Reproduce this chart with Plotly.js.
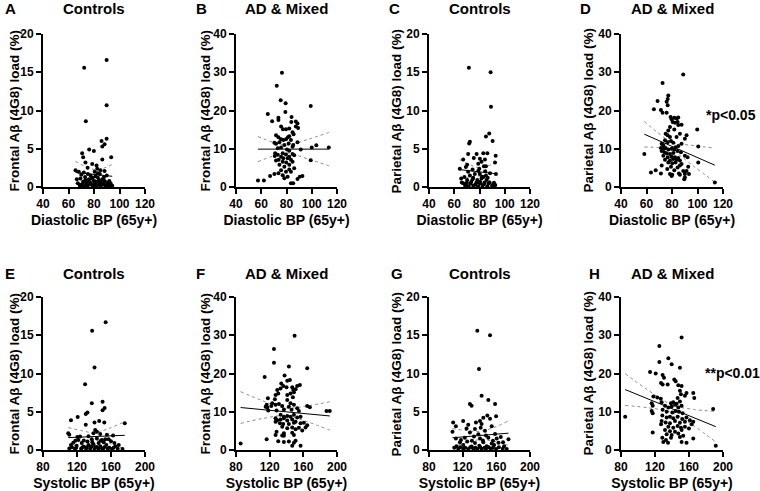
<!DOCTYPE html>
<html>
<head>
<meta charset="utf-8">
<script src="https://cdn.plot.ly/plotly-3.0.1.min.js"></script>
<style>html,body{margin:0;padding:0;background:#fff}#chart{width:760px;height:491px}</style>
</head>
<body>
<div id="chart"></div>
<script>
// ---- Data ----
const panelLetters = ['A','B','C','D','E','F','G','H'];
const panelTitles = ['Controls','AD & Mixed','Controls','AD & Mixed','Controls','AD & Mixed','Controls','AD & Mixed'];
const xTitles = ['Diastolic BP (65y+)','Systolic BP (65y+)'];
const yTitles = ['Frontal Aβ (4G8) load (%)','Parietal Aβ (4G8) load (%)'];
const pLabels = {D: '*p<0.05', H: '**p<0.01'};

const xA = [89.9,72.3,89.9,73.6,89.9,85.9,88.3,86.5,76.2,70.7,71.5,79.9,93.5,86.5,73.3,65.5,68.1,72,75.2,82.5,85.1,88.3,77.3,81.2,84.6,87.8,69.4,73.3,76,79.9,83.8,86.5,67.3,71,74.1,77.8,81,84.1,87.2,90.4,93,68.9,72.5,75.2,78.8,82,85.1,89.3,91.9,94.3,78.6,82,75,80.5,83,70,79,85,76,90,92,70,80.5,88,69,71.5,74,77,79,81.5,84,86,88.5,91,66.5,73,78,83,87.5];
const yA = [16.6,15.6,10.7,8.6,6.3,6.0,5.6,5.3,4.9,4.4,3.9,4.7,3.9,3.6,3.2,2.2,2.0,1.9,1.7,2.4,2.2,2.1,1.5,1.4,1.7,1.3,1.1,0.9,1.0,0.8,0.9,1.0,0.5,0.4,0.6,0.35,0.5,0.35,0.6,0.4,0.5,0.15,0.1,0.2,0.15,0.1,0.15,0.1,0.2,0.15,3.0,2.8,2.5,2.0,1.8,1.6,1.2,0.7,0.7,1.5,0.8,0.2,0.25,0.3,0.3,0.7,0.45,0.6,0.3,0.7,0.55,0.3,0.75,0.6,1.0,1.3,1.1,1.25,0.9];

const xB = [76.4,72.3,75.4,79.3,99.2,65.2,79.1,68.6,73.6,73.6,84,83.8,87.4,88.7,87.4,89.2,75.7,77.2,79.6,82.2,84.8,85.6,71.7,73.6,75.7,77.5,79.6,81.1,82.2,83.5,70.4,71.7,74.4,78.3,81.7,85.3,88.7,100,103.6,113.5,73.1,75.7,80.4,82.2,84.8,91.3,71,73.1,77,79.6,82.2,84.8,86.1,70.7,75.7,77.5,80.9,83.5,99.2,71.7,73.8,77,79.8,84.8,74.4,78.3,82.2,86.1,82.2,75.7,79.6,83.5,70.4,73.6,77,80.9,67,78.3,90.5,92.6,88.7,57.4,62.1,83.5,85.3];
const yB = [29.9,26.5,22.7,21.9,21.2,19.1,19.6,17.2,18.1,17.5,18.3,17,17.1,16.6,15.8,15.4,15.8,15.1,15.1,15.3,14.3,13.8,13.5,13,12.5,12.3,12.5,13,13.3,12.3,11.6,11.3,11.7,11,11.4,11,11.7,10.3,10.9,10.3,10.1,10.3,9.8,9.5,10.5,9.8,8.8,8.4,8.8,8.5,7.9,8.6,8.3,8.1,7.9,7.5,7.5,7.1,7.0,6.9,7.1,6.6,6.4,6.6,5.8,5.3,5.8,4.9,4.6,4.4,4.0,4.0,3.4,3.6,3.1,2.7,2.9,2.3,2.7,2.9,2.1,1.7,1.7,1.0,1.0];

const xC = [71.6,88.8,89.1,87.7,85.1,72.4,71.8,90.4,71,77.7,83,86.2,92.8,67.1,75.5,80.3,84.3,70.2,79,81.6,83.5,92.3,64.4,69.2,74.5,79.8,85.1,88.3,93,72.4,76.3,80.3,83,85.1,65.5,70.2,74.5,78.2,81.6,85.6,67.1,69.2,72.9,76.6,80.3,83.5,87.2,90.9,92.5,68.6,71.3,75,79,82.4,86.2,89.9,92,66,70,73.5,77.5,80.5,84,88,91.5,68,75,82,86.5,71,79,84.5];
const yC = [15.6,15.0,10.5,7.0,6.6,5.9,5.7,6.0,4.3,4.3,4.4,4.4,4.1,3.6,3.8,3.7,3.6,2.9,3.05,3.3,2.7,3.2,2.4,2.6,2.3,2.4,2.7,1.8,1.7,1.5,1.7,1.7,1.3,1.5,1.1,0.9,1.0,0.9,1.1,0.9,0.5,0.35,0.45,0.3,0.5,0.35,0.45,0.35,0.25,0.15,0.1,0.15,0.1,0.15,0.1,0.15,0.15,0.6,0.55,0.7,0.55,0.7,0.6,0.6,0.55,1.3,1.2,1.35,1.2,2.0,2.1,2.05];

const xD = [88.8,72.6,77.1,76.6,75.8,76.6,68.7,65.8,71.3,72.6,75.8,78.9,79.7,81.8,83.6,84.9,80.5,82.3,84.4,78.4,81.8,77.1,84.9,87.5,99.8,75,76.6,78.4,91.4,90.1,86.2,83.6,74.5,76.6,79.2,81,71.9,73.2,87.5,85,100.6,71.3,73.2,75,77.1,79.7,81.8,82.8,58.3,71.9,74,75.8,78.4,81,84.4,87,73.2,76.6,79.7,82.3,84.9,90.1,74.5,78.4,81,83.6,86.2,92.2,77.1,80.2,82.8,87.5,100.6,71.9,79.2,84.4,86.2,92.7,76.3,81.8,88.8,91.4,67.2,71.3,63.5,78.4,80.2,86.2,90.1,93.3,90.1,89.6,79.7,113.6,85.4];
const yD = [29.4,27.2,23.9,23.0,22.3,21.4,22.5,20.3,20.1,19.4,19.4,18.3,17.7,18.1,17.9,18.2,17.0,16.8,17.0,15.7,15.0,14.8,16.2,16.3,15.0,13.9,13.5,13.1,13.5,12.6,13.9,13.1,12.2,11.7,12.0,11.6,11.3,10.9,11.3,10.7,10.6,10.2,10.0,10.2,9.8,10.0,9.8,10.4,8.6,9.4,9.1,8.8,8.6,8.9,9.4,9.1,8.2,7.8,7.9,7.8,7.6,8.2,7.1,6.9,7.3,7.1,6.9,7.8,6.4,6.2,6.4,6.0,6.4,5.6,5.3,5.1,5.6,5.3,4.7,4.4,4.2,4.2,4.4,3.5,3.8,3.4,3.2,3.2,3.4,3.4,2.5,2.0,2.9,1.2,3.5];

const xE = [153.7,137.8,140.6,129.5,150.1,137.4,152.5,150.1,132.3,130.3,120.8,112.9,146.1,140.6,152.1,176.2,130.3,109.7,110.9,143.4,141.4,139.4,123.6,120.4,133.5,147.3,155.2,162.4,121.6,137.4,143.4,149.3,153.3,157.2,115.6,125.5,132.3,139.4,145.4,151.3,164,112.9,119.6,127.5,133.5,137.4,143.4,147.3,154.5,165.1,169.1,110.9,117.6,124.8,130.7,135.4,140.6,145.3,150.5,156,161.2,167.9,173.5,114,119,126,131,136,142,147,152,158,163,118,128,138,148,160];
const yE = [16.7,15.6,10.8,8.6,6.3,6.1,5.5,5.2,4.9,4.7,4.3,3.9,3.8,3.6,3.6,3.5,3.3,2.2,2.0,2.4,2.6,2.2,1.75,1.7,1.8,2.1,2.0,1.9,1.3,1.4,1.5,1.3,1.4,1.4,0.95,0.9,1.1,0.75,0.9,1.0,0.9,0.65,0.55,0.45,0.65,0.5,0.4,0.5,0.65,0.5,0.65,0.2,0.13,0.17,0.13,0.2,0.13,0.17,0.13,0.17,0.13,0.17,0.13,0.35,0.3,0.3,0.35,0.3,0.35,0.3,0.35,0.3,0.3,1.2,1.25,1.0,1.2,1.15];

const xF = [149.6,125.1,125.1,142.8,164.6,114,137.7,144,140.9,133.8,136.1,140,146.8,148,155.9,152.7,150.8,148.8,129,132.9,127,130.2,126.2,117.9,140.9,144.8,147.6,123.1,127,131,134.9,121.9,116.4,117.2,115.2,140.9,144.8,148.8,142.8,164.6,167.7,152.7,154.7,146,136.9,187.5,191.4,118.3,128.2,133,136.9,140.9,144.8,148.8,152.7,156.7,127,129,133,136.9,140.9,146.8,150.8,127,132.2,136.1,142.8,148.8,156.7,160.6,164.6,162.6,134.9,140.9,146.8,150.8,154.7,128.2,136.9,146.8,158.7,127,134.9,136.9,148.8,116.4,130.2,136.9,142.8,148.8,85.5,146.8,156.7,150.8];
const yF = [29.9,26.4,22.8,21.8,21.4,19.1,19.5,18.3,18.1,17.4,16.7,16.4,16.4,15.7,17.0,16.7,15.9,15.1,15.7,16.1,14.4,14.8,13.3,13.5,14.4,14.8,13.8,12.2,11.8,12.0,11.5,11.5,11.8,11.1,11.3,13.1,12.2,11.8,11.3,11.5,11.2,10.9,10.2,10.5,10.6,10.2,10.2,10.3,10.3,9.2,8.7,8.9,8.7,9.2,8.5,8.7,8.3,7.8,8.0,8.3,7.7,8.0,7.4,7.4,7.0,6.8,6.8,7.1,7.0,7.1,6.5,5.9,6.1,5.7,5.9,5.4,5.8,4.8,4.4,4.5,5.1,3.9,3.8,3.7,3.9,2.8,2.3,2.1,2.2,1.9,1.7,1.1,1.1,2.4];

const xG = [137.4,152.5,139.4,142.5,150.5,128.6,130.6,158.5,149.3,144.5,140.6,152.5,159.7,108.7,120.6,126.6,135.8,142.5,111.9,124.6,134.6,141.4,146.5,154.5,107.9,128.6,138.6,147.7,158.5,111.9,122.6,133.4,140.6,150.5,160.5,165.3,174.4,116.7,125.4,134.6,144.5,154.5,162.5,112.7,120.6,130.6,139.8,148.5,157.3,169.2,114.7,120.6,126.6,132.6,137.4,142.5,147.7,153.3,159.7,167.6,172.4,110,117,123,129,135,141,146,151,156,163,118,131,144,156,168];
const yG = [15.6,15.0,10.6,7.1,6.55,6.0,5.8,6.0,4.5,4.2,3.8,4.1,4.4,3.6,3.8,3.3,3.6,3.4,3.1,2.8,2.75,2.9,2.5,3.1,2.4,2.3,2.05,1.9,2.1,1.5,1.6,1.75,1.5,1.6,1.5,1.7,1.4,1.0,1.1,0.9,1.0,0.85,0.95,0.5,0.65,0.45,0.55,0.5,0.65,0.5,0.13,0.17,0.13,0.17,0.13,0.17,0.13,0.17,0.13,0.17,0.13,0.3,0.35,0.3,0.35,0.3,0.35,0.3,0.35,0.3,0.35,1.3,1.2,1.25,1.2,1.0];

const xH = [151.3,125.1,135.7,125.1,139.6,149.3,114.2,120.8,129,130.6,142.7,144.3,127.1,129,134.9,147.4,151.3,149.3,157.1,155.2,118.1,122.7,150.5,146.6,165,166.2,126.8,127.8,138.8,141.5,116.1,117.3,149.3,145.4,131.8,135.7,139.6,143.6,147.4,151.3,188.4,116.1,117.3,129,133.7,140.4,144.3,148.2,152.5,84.9,128.6,133.7,137.6,141.5,146.6,152,157,161,127.8,132.5,137.6,143.5,149.3,155.2,165,163.1,127.1,135.7,141.5,146.6,150.5,155.2,131.8,137.6,143.5,151.3,159.9,133.7,139.6,147.4,153.2,117.3,128.6,138.8,149.3,165,132.9,151.3,129.8,157.1,135.3,191.5];
const yH = [29.4,27.2,24.0,23.0,22.4,21.5,20.4,20.0,19.6,18.9,18.4,18.0,17.5,17.1,17.1,16.9,16.7,15.5,14.9,14.2,14.0,13.7,14.6,13.6,14.9,13.6,13.4,12.5,12.2,12.5,12.2,11.6,12.7,12.1,11.6,11.1,11.4,11.8,11.1,11.6,10.7,10.2,9.6,10.5,10.0,9.8,10.2,10.0,9.6,8.7,9.0,8.5,8.7,8.3,8.7,8.1,8.5,7.8,7.6,7.2,7.0,7.6,7.1,7.4,7.4,6.7,6.7,6.1,5.8,6.3,5.8,6.1,5.2,4.9,4.8,5.2,5.6,4.1,3.9,4.3,3.7,4.6,3.2,3.2,3.4,3.0,2.6,2.1,2.1,1.9,1.9,1.1];

// Linear-regression lines and 95% confidence bands
const fitXA = [65.5, 94.3],  fitYA = [1.9, 1.4];
const bandXA = [65.5, 72.7, 80, 87, 94.3],  bandUpA = [3.35, 2.7, 2.3, 2.43, 2.95],  bandLoA = [0.45, 0.86, 1.0, 0.63, -0.15];
const fitXB = [57.4, 113.5], fitYB = [9.9, 9.9];
const bandXB = [57.4, 68.7, 80, 96.8, 113.5], bandUpB = [13.2, 11.77, 10.9, 12.44, 14.25], bandLoB = [6.6, 8.03, 8.9, 7.36, 5.55];
const fitXC = [64.4, 92.8],  fitYC = [2.27, 1.74];
const bandXC = [64.4, 71.7, 79, 85.9, 92.8],  bandUpC = [3.57, 2.98, 2.55, 2.72, 3.19], bandLoC = [0.97, 1.28, 1.45, 1.02, 0.29];
const fitXD = [58.3, 113.6], fitYD = [13.8, 5.7];
const bandXD = [58.3, 69, 80, 97, 113.6],     bandUpD = [17.15, 14.17, 11.72, 10.84, 10.15], bandLoD = [10.45, 10.29, 9.52, 5.42, 1.25];
const fitXE = [109.7, 176.2], fitYE = [1.62, 1.92];
const bandXE = [109.7, 125, 140, 158, 176.2], bandUpE = [2.93, 2.54, 2.26, 2.84, 3.7], bandLoE = [0.31, 0.84, 1.26, 0.84, 0.14];
const fitXF = [85.5, 191.4], fitYF = [11.1, 8.9];
const bandXF = [85.5, 112, 140, 165, 191.4],  bandUpF = [15.25, 12.85, 10.97, 11.55, 12.6], bandLoF = [6.95, 8.25, 8.97, 7.35, 5.2];
const fitXG = [107.9, 174.4], fitYG = [1.6, 2.2];
const bandXG = [107.9, 124, 140, 157, 174.4], bandUpG = [2.8, 2.55, 2.44, 2.94, 3.8], bandLoG = [0.4, 0.95, 1.34, 1.14, 0.6];
const fitXH = [84.9, 191.5], fitYH = [15.8, 6.1];
const bandXH = [84.9, 112, 140, 165, 191.5],  bandUpH = [19.95, 15.63, 11.79, 10.62, 10.1], bandLoH = [11.65, 11.03, 9.79, 6.42, 2.1];

const xRanges = {dia: [40, 120], sys: [80, 200]};
const xDticks = {dia: 20, sys: 40};
const yRanges = {ctrl: [0, 20], ad: [0, 40]};
const yDticks = {ctrl: 5, ad: 10};

// ---- Layout geometry (pixels in a 760x491 figure) ----
const W = 760, H = 491;
const colPx = [[43,145],[236,337],[429,530],[621,723]];
const rowPx = [[34,187],[297,450]];
const yTitleXPx = [14, 205, 396, 588];
const letterPx = [[3,9],[194,9],[387,9],[578,9],[3,273],[194,273],[389,273],[587,273]];

const panels = [
  {x:xA,y:yA,fx:fitXA,fy:fitYA,bx:bandXA,bu:bandUpA,bl:bandLoA,bp:'dia',grp:'ctrl',region:0},
  {x:xB,y:yB,fx:fitXB,fy:fitYB,bx:bandXB,bu:bandUpB,bl:bandLoB,bp:'dia',grp:'ad',region:0},
  {x:xC,y:yC,fx:fitXC,fy:fitYC,bx:bandXC,bu:bandUpC,bl:bandLoC,bp:'dia',grp:'ctrl',region:1},
  {x:xD,y:yD,fx:fitXD,fy:fitYD,bx:bandXD,bu:bandUpD,bl:bandLoD,bp:'dia',grp:'ad',region:1},
  {x:xE,y:yE,fx:fitXE,fy:fitYE,bx:bandXE,bu:bandUpE,bl:bandLoE,bp:'sys',grp:'ctrl',region:0},
  {x:xF,y:yF,fx:fitXF,fy:fitYF,bx:bandXF,bu:bandUpF,bl:bandLoF,bp:'sys',grp:'ad',region:0},
  {x:xG,y:yG,fx:fitXG,fy:fitYG,bx:bandXG,bu:bandUpG,bl:bandLoG,bp:'sys',grp:'ctrl',region:1},
  {x:xH,y:yH,fx:fitXH,fy:fitYH,bx:bandXH,bu:bandUpH,bl:bandLoH,bp:'sys',grp:'ad',region:1}
];

const FONT = 'Liberation Sans, Arial, Helvetica, sans-serif';
const traces = [];
const layout = {
  width: W, height: H,
  margin: {l:0, r:0, t:0, b:0},
  paper_bgcolor: '#fff', plot_bgcolor: '#fff',
  showlegend: false,
  font: {family: FONT, color: '#000'},
  annotations: []
};

panels.forEach((p, i) => {
  const idx = i + 1;
  const xa = 'x' + (idx === 1 ? '' : idx), ya = 'y' + (idx === 1 ? '' : idx);
  const col = i % 4, row = Math.floor(i / 4);
  const cx = colPx[col], ry = rowPx[row];
  const band = {color:'#8a8a8a', width:1, dash:'dot', shape:'spline', smoothing:1};
  traces.push({type:'scatter', mode:'lines', x:p.bx, y:p.bu, xaxis:xa, yaxis:ya, line:band, hoverinfo:'skip'});
  traces.push({type:'scatter', mode:'lines', x:p.bx, y:p.bl, xaxis:xa, yaxis:ya, line:band, hoverinfo:'skip'});
  traces.push({type:'scatter', mode:'markers', x:p.x, y:p.y, xaxis:xa, yaxis:ya,
    marker:{color:'#000', size:4}, cliponaxis:false});
  traces.push({type:'scatter', mode:'lines', x:p.fx, y:p.fy, xaxis:xa, yaxis:ya,
    line:{color:'#000', width:1}});

  const axCommon = {
    showline:true, linecolor:'#000', linewidth:2, mirror:false,
    ticks:'outside', ticklen:5, tickwidth:2, tickcolor:'#000',
    showgrid:false, zeroline:false, fixedrange:true,
    tickfont:{family:FONT, size:12, color:'#000', weight:'bold'}
  };
  layout['xaxis' + (idx===1?'':idx)] = Object.assign({}, axCommon, {
    domain:[cx[0]/W, cx[1]/W], anchor: ya,
    range: xRanges[p.bp], tick0: xRanges[p.bp][0], dtick: xDticks[p.bp],
    title:{text: p.bp==='dia'? xTitles[0] : xTitles[1], font:{family:FONT, size:14, color:'#000', weight:'bold'}, standoff:5}
  });
  layout['yaxis' + (idx===1?'':idx)] = Object.assign({}, axCommon, {
    domain:[1 - ry[1]/H, 1 - ry[0]/H], anchor: xa,
    range: yRanges[p.grp], tick0: 0, dtick: yDticks[p.grp]
  });
  // y-axis title
  layout.annotations.push({xref:'paper', yref:'paper', x:yTitleXPx[col]/W, y:1 - (ry[0]+ry[1])/2/H,
    xanchor:'center', yanchor:'middle', textangle:-90, showarrow:false, text: yTitles[p.region],
    font:{family:FONT, size:13.5, color:'#000', weight:'bold'}});
  // panel title
  layout.annotations.push({xref:'paper', yref:'paper', x:(cx[0]+cx[1])/2/W, y:1 - letterPx[i][1]/H,
    xanchor:'center', yanchor:'middle', showarrow:false, text: panelTitles[i],
    font:{family:FONT, size:15, color:'#000', weight:'bold'}});
  // panel letter
  layout.annotations.push({xref:'paper', yref:'paper', x:letterPx[i][0]/W, y:1 - letterPx[i][1]/H,
    xanchor:'left', yanchor:'middle', showarrow:false, text: panelLetters[i],
    font:{family:FONT, size:15, color:'#000', weight:'bold'}});
});

// significance labels
layout.annotations.push({xref:'paper', yref:'paper', x:704/W, y:1 - 115/H, xanchor:'left', yanchor:'middle',
  showarrow:false, text:pLabels.D, font:{family:FONT, size:14, color:'#000', weight:'bold'}});
layout.annotations.push({xref:'paper', yref:'paper', x:703/W, y:1 - 373/H, xanchor:'left', yanchor:'middle',
  showarrow:false, text:pLabels.H, font:{family:FONT, size:14, color:'#000', weight:'bold'}});

Plotly.newPlot('chart', traces, layout, {staticPlot:true, displayModeBar:false});
</script>
</body>
</html>
